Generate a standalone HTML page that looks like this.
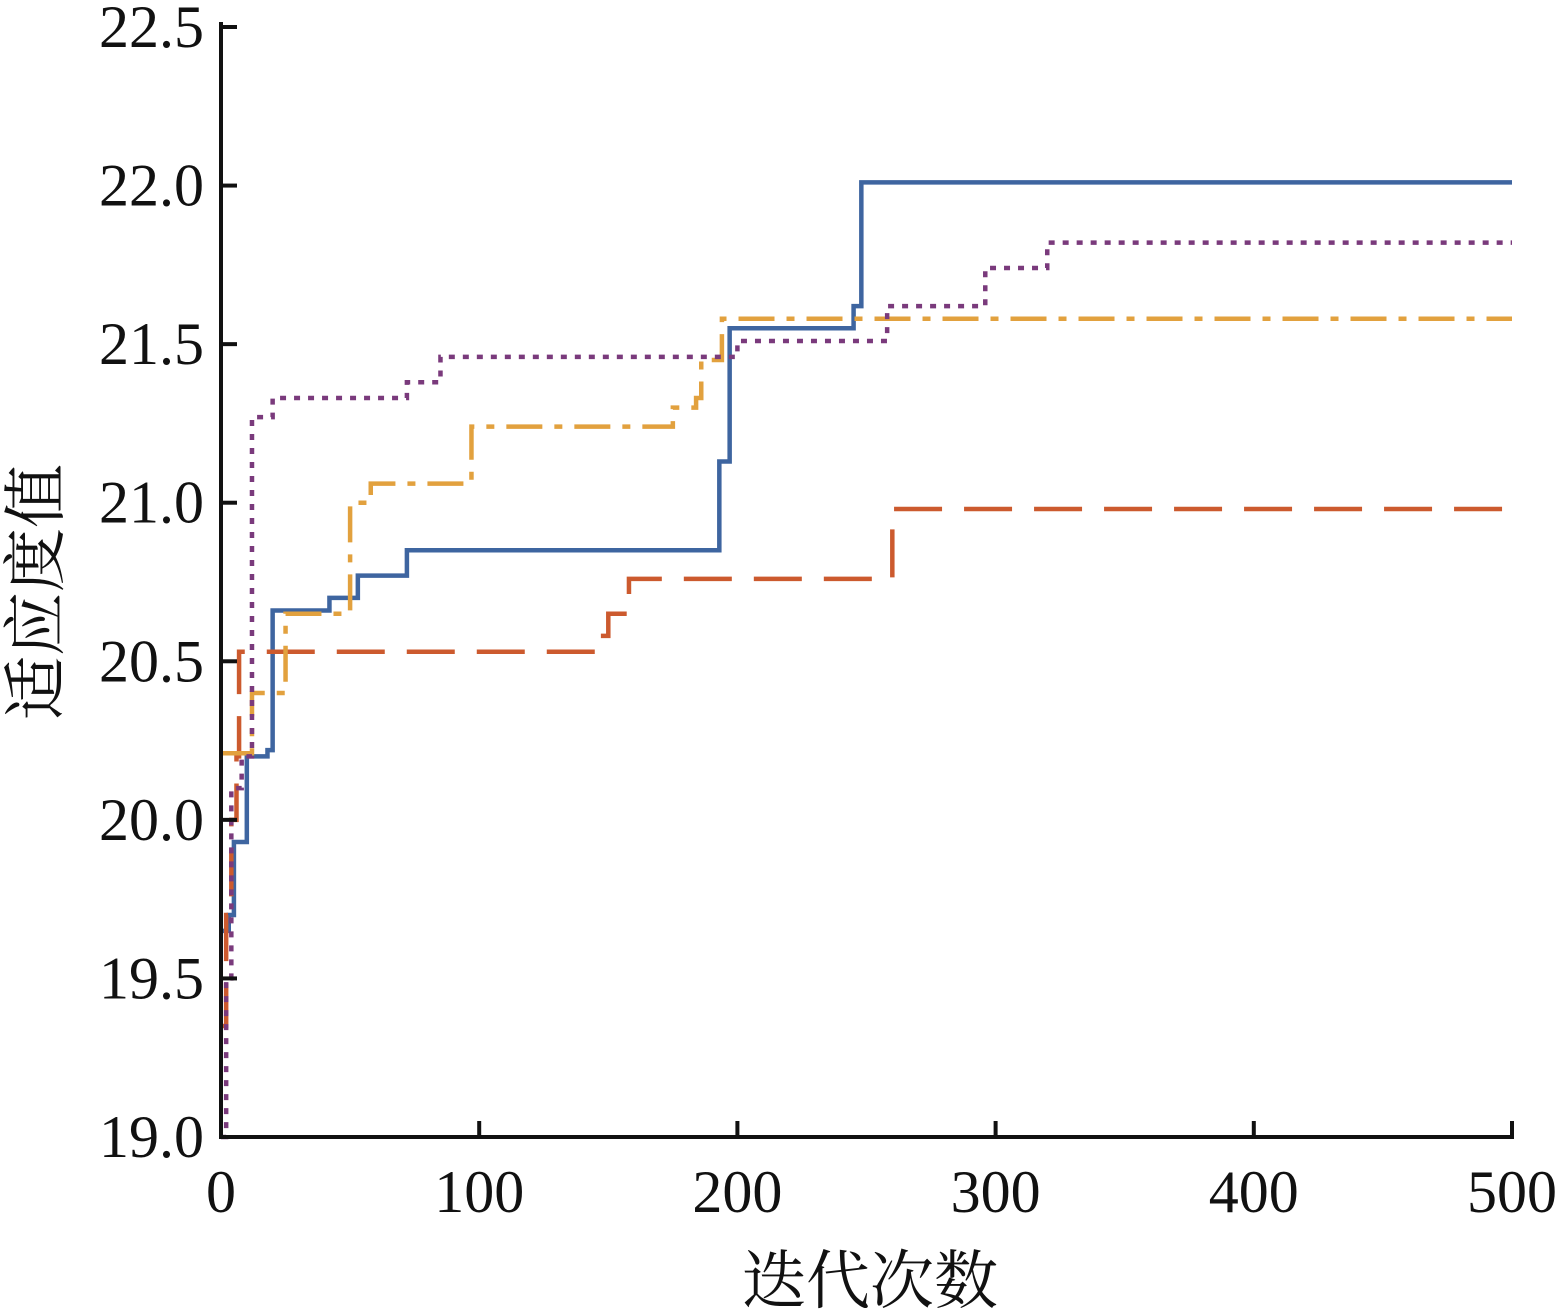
<!DOCTYPE html>
<html><head><meta charset="utf-8"><style>
html,body{margin:0;padding:0;background:#fff;}
svg{display:block;}
text{font-family:"Liberation Serif","Noto Serif CJK SC",serif;fill:#111;}
</style></head><body>
<svg id="chart" width="1565" height="1314"></svg>
<script>
const xTicks=[0,100,200,300,400,500];
const yTicks=[19.0,19.5,20.0,20.5,21.0,21.5,22.0,22.5];
const blueX=[0,3,5,10,18,20,42,53,72,193,197,245,248,500];
const blueY=[19.65,19.7,19.93,20.2,20.22,20.66,20.7,20.77,20.85,21.13,21.55,21.62,22.01,22.01];
const redX=[0,2,4,6,7,145,148,150,158,260,500];
const redY=[19.35,19.7,20.0,20.2,20.53,20.55,20.58,20.65,20.76,20.98,20.985];
const goldX=[0,12,25,50,58,97,175,184,186,194,500];
const goldY=[20.21,20.4,20.65,21.0,21.06,21.24,21.3,21.33,21.45,21.58,21.58];
const purpleX=[0,2,4,8,12,20,72,85,200,258,296,320,500];
const purpleY=[19.0,19.5,20.1,20.2,21.27,21.33,21.38,21.46,21.51,21.62,21.74,21.82,21.82];

const NS="http://www.w3.org/2000/svg";
const svg=document.getElementById('chart');
const X0=221,X1=1512,Y0=1137,Y1=27;
const sx=v=>X0+(v-0)/(500-0)*(X1-X0);
const sy=v=>Y0-(v-19)/(22.5-19)*(Y0-Y1);
function mk(tag,attrs){const e=document.createElementNS(NS,tag);for(const k in attrs)e.setAttribute(k,attrs[k]);svg.appendChild(e);return e;}

const series=[
 {x:blueX,y:blueY,c:"#3e65a0",d:"",n:"series-blue-solid"},
 {x:redX,y:redY,c:"#cc5a2e",d:"48,22",n:"series-red-dashed"},
 {x:goldX,y:goldY,c:"#e2a13e",d:"36,12,8,12",n:"series-gold-dashdot"},
 {x:purpleX,y:purpleY,c:"#7a3a7c",d:"6,8",n:"series-purple-dotted"}
];
for(const s of series){
  let d="M"+sx(s.x[0])+","+sy(s.y[0]);
  for(let i=1;i<s.x.length;i++){d+=" L"+sx(s.x[i])+","+sy(s.y[i-1])+" L"+sx(s.x[i])+","+sy(s.y[i]);}
  const p=mk('path',{d:d,fill:"none",stroke:s.c,"stroke-width":4.5,"stroke-dasharray":s.d});
  
  
}
const ay=mk('line',{x1:X0,y1:Y1-5,x2:X0,y2:Y0,stroke:"#111","stroke-width":4});


const ax=mk('line',{x1:X0-2,y1:Y0,x2:X1+2,y2:Y0,stroke:"#111","stroke-width":4});


for(const t of yTicks){
  const l=mk('line',{x1:X0,y1:sy(t),x2:X0+16,y2:sy(t),stroke:"#111","stroke-width":4});
  
  
  const tx=mk('text',{x:204,y:sy(t)+20,"text-anchor":"end","font-size":60});
  tx.textContent=t.toFixed(1);
  
  
}
for(const t of xTicks){
  const l=mk('line',{x1:sx(t),y1:Y0,x2:sx(t),y2:Y0-16,stroke:"#111","stroke-width":4});
  
  
  const tx=mk('text',{x:sx(t),y:1212,"text-anchor":"middle","font-size":60});
  tx.textContent=String(t);
  
  
}
const xt=mk('text',{x:870,y:1303,"text-anchor":"middle","font-size":64});
xt.textContent="迭代次数";


const yt=mk('text',{x:0,y:0,"text-anchor":"middle","font-size":64,transform:"translate(58,592) rotate(-90)"});
yt.textContent="适应度值";


</script>
</body></html>
